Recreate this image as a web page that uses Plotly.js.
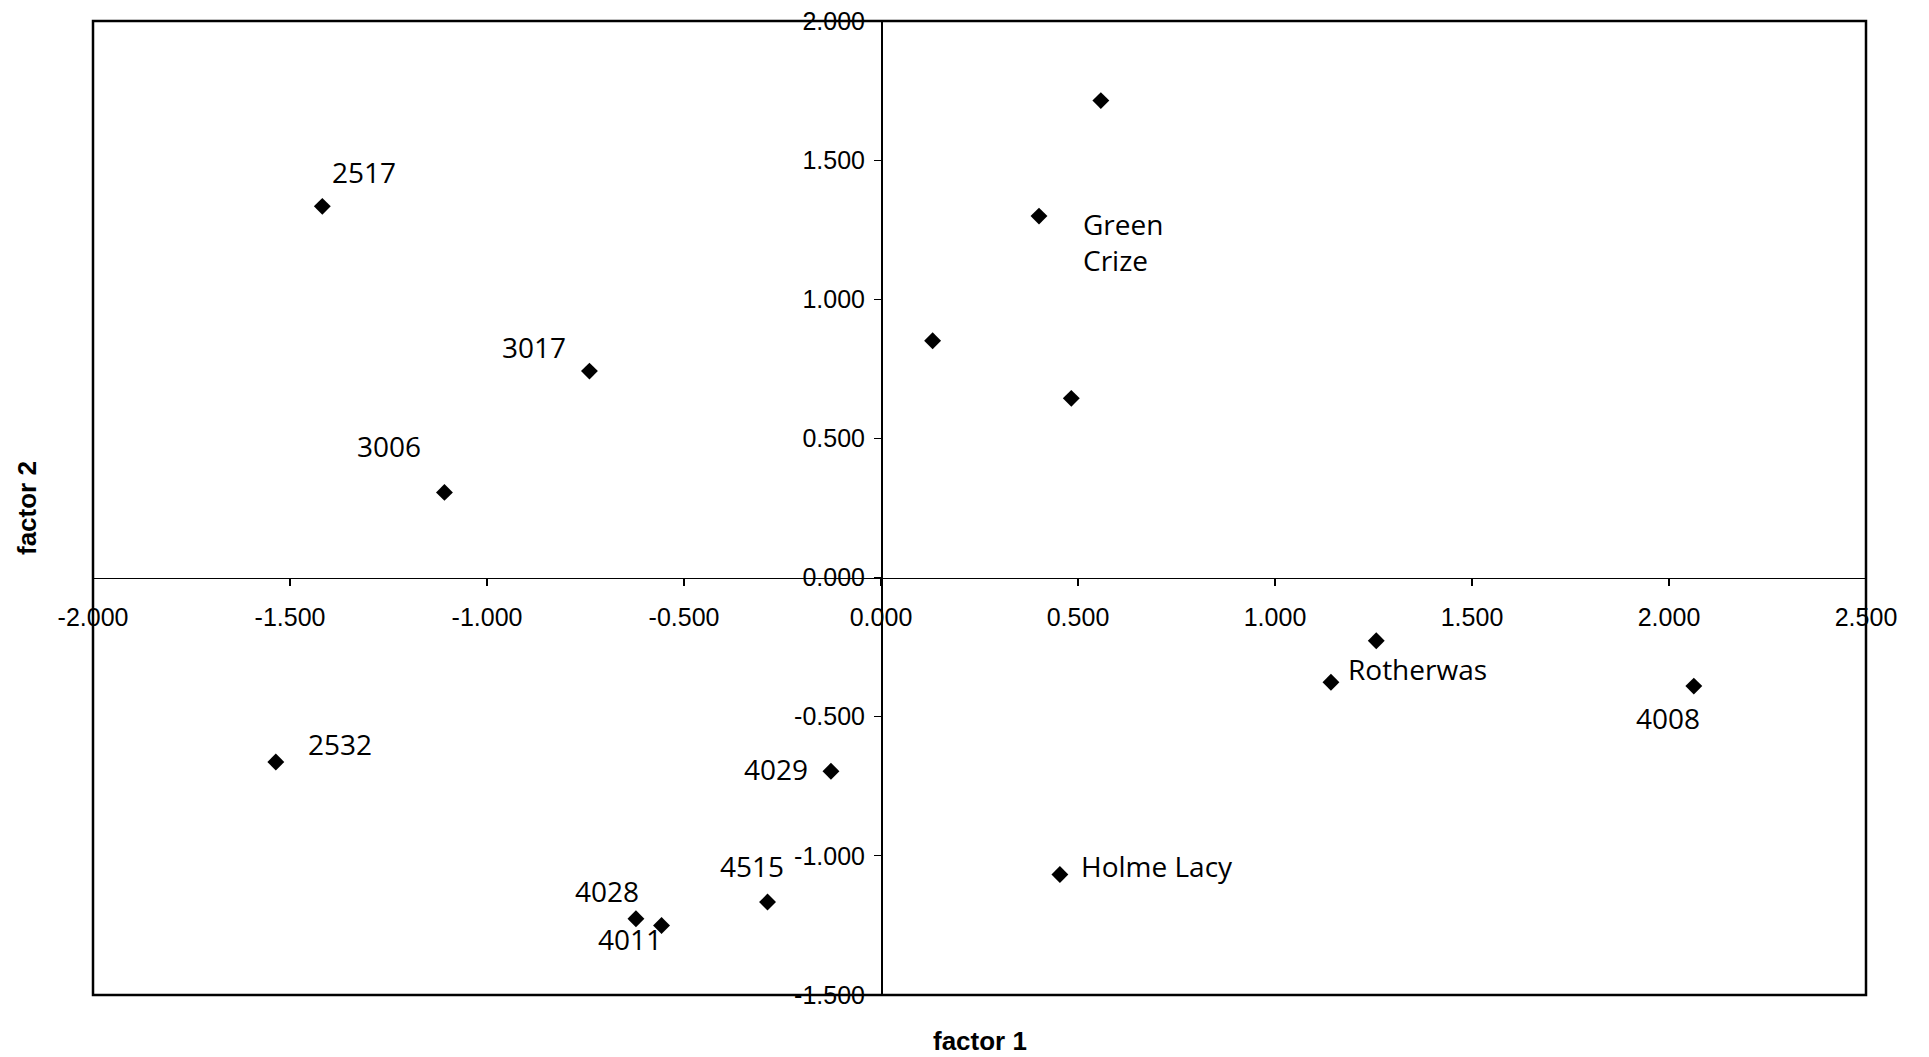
<!DOCTYPE html>
<html>
<head>
<meta charset="utf-8">
<script src="https://cdn.plot.ly/plotly-3.0.1.min.js"></script>
<style>
  html, body { margin: 0; padding: 0; background: #ffffff; }
  #chart { width: 1929px; height: 1057px; }
</style>
</head>
<body>
<div id="chart"></div>
<script>
// ---- data ----
const factor1 = [0.558, 0.401, 0.131, 0.483, -1.418, -0.740, -1.108, -1.536, -0.127, -0.288, -0.622, -0.557, 0.454, 1.142, 1.257, 2.063];
const factor2 = [1.714, 1.299, 0.851, 0.644, 1.334, 0.742, 0.306, -0.663, -0.696, -1.166, -1.226, -1.250, -1.067, -0.376, -0.227, -0.390];
const pointLabels = ["", "Green<br>Crize", "", "", "2517", "3017", "3006", "2532", "4029", "4515", "4028", "4011", "Holme Lacy", "Rotherwas", "", "4008"];

const xTickVals = [-2, -1.5, -1, -0.5, 0, 0.5, 1, 1.5, 2, 2.5];
const xTickText = ["-2.000", "-1.500", "-1.000", "-0.500", "0.000", "0.500", "1.000", "1.500", "2.000", "2.500"];
const yTickVals = [-1.5, -1, -0.5, 0, 0.5, 1, 1.5, 2];
const yTickText = ["-1.500", "-1.000", "-0.500", "0.000", "0.500", "1.000", "1.500", "2.000"];

const xTitle = "factor 1";
const yTitle = "factor 2";

// ---- label placement (pixel offsets from each point; styling only) ----
const labelPlacement = [
  null,
  {dx: 42, dy: 26, anchor: "left"},
  null,
  null,
  {dx: 42, dy: -34, anchor: "center"},
  {dx: -55, dy: -24, anchor: "center"},
  {dx: -55, dy: -46, anchor: "center"},
  {dx: 64, dy: -18, anchor: "center"},
  {dx: -55, dy: -2, anchor: "center"},
  {dx: -16, dy: -36, anchor: "center"},
  {dx: -29, dy: -28, anchor: "center"},
  {dx: -32, dy: 14, anchor: "center"},
  {dx: 19, dy: -9, anchor: "left"},
  {dx: 15, dy: -13, anchor: "left"},
  null,
  {dx: -26, dy: 32, anchor: "center"}
];

const xRange = [-2, 2.5];
const yRange = [-1.5, 2];

const tickFont = {family: "Liberation Sans, Arial, sans-serif", size: 25, color: "#000000"};
const labelFont = {family: "Open Sans, Noto Sans, sans-serif", size: 28, color: "#000000"};
const titleFont = {family: "Liberation Sans, Arial, sans-serif", size: 26, color: "#000000", weight: 700};

const trace = {
  type: "scatter",
  mode: "markers",
  x: factor1,
  y: factor2,
  marker: {symbol: "diamond", size: 13, color: "#000000", line: {width: 0}},
  hoverinfo: "x+y",
  showlegend: false
};

const annotations = [];
pointLabels.forEach((lab, i) => {
  if (!lab) return;
  const p = labelPlacement[i];
  annotations.push({
    x: factor1[i], y: factor2[i], xref: "x", yref: "y",
    text: lab, showarrow: false,
    xanchor: p.anchor, yanchor: "middle", align: "left",
    xshift: p.dx, yshift: -p.dy,
    font: labelFont
  });
});
annotations.push({
  x: 0.5, y: 0, xref: "paper", yref: "paper",
  text: xTitle, showarrow: false, xanchor: "center", yanchor: "middle",
  yshift: -46, font: titleFont
});
annotations.push({
  x: 0, y: 0.5, xref: "paper", yref: "paper",
  text: yTitle, showarrow: false, xanchor: "center", yanchor: "middle",
  textangle: -90, xshift: -66, font: titleFont
});

const xZeroFrac = (0 - yRange[0]) / (yRange[1] - yRange[0]);
const yZeroFrac = (0 - xRange[0]) / (xRange[1] - xRange[0]);

const layout = {
  width: 1929,
  height: 1057,
  margin: {l: 93, r: 63, t: 21, b: 62, pad: 0},
  paper_bgcolor: "#ffffff",
  plot_bgcolor: "#ffffff",
  showlegend: false,
  xaxis: {
    range: xRange,
    anchor: "free",
    position: xZeroFrac,
    showgrid: false,
    zeroline: false,
    showline: true,
    linecolor: "#000000",
    linewidth: 1.5,
    ticks: "outside",
    ticklen: 7,
    tickwidth: 1.2,
    tickcolor: "#000000",
    tickmode: "array",
    tickvals: xTickVals,
    ticktext: xTickText,
    ticklabelstandoff: 10,
    tickfont: tickFont
  },
  yaxis: {
    range: yRange,
    anchor: "free",
    position: yZeroFrac,
    showgrid: false,
    zeroline: false,
    showline: true,
    linecolor: "#000000",
    linewidth: 1.5,
    ticks: "outside",
    ticklen: 7,
    tickwidth: 1.2,
    tickcolor: "#000000",
    tickmode: "array",
    tickvals: yTickVals,
    ticktext: yTickText,
    ticklabelstandoff: 4,
    tickfont: tickFont
  },
  shapes: [{
    type: "rect", xref: "paper", yref: "paper",
    x0: 0, x1: 1, y0: 0, y1: 1,
    line: {color: "#000000", width: 2.5},
    fillcolor: "rgba(0,0,0,0)",
    layer: "above"
  }],
  annotations: annotations
};

Plotly.newPlot("chart", [trace], layout, {displayModeBar: false, staticPlot: true});
</script>
</body>
</html>
